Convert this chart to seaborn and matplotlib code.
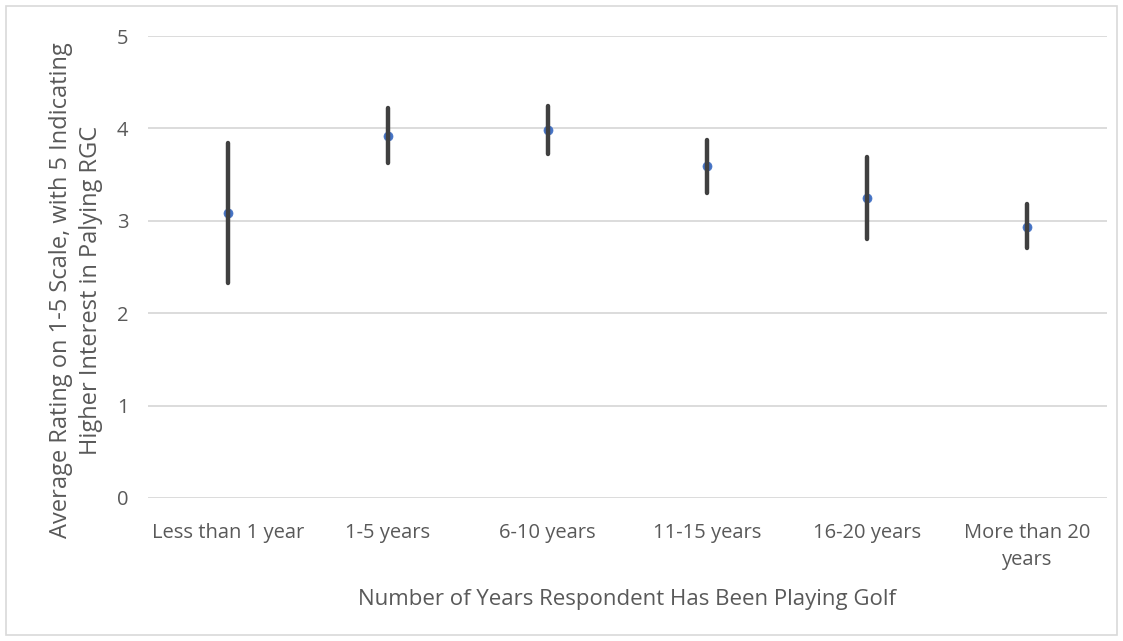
import numpy as np
import pandas as pd
import matplotlib
matplotlib.use("Agg")
import matplotlib.pyplot as plt
from matplotlib.patches import Rectangle
import seaborn as sns

categories = ["Less than 1 year", "1-5 years", "6-10 years", "11-15 years",
              "16-20 years", "More than 20\nyears"]
means = [3.08, 3.92, 3.98, 3.59, 3.25, 2.93]
lower = [2.33, 3.63, 3.72, 3.30, 2.80, 2.71]
upper = [3.84, 4.22, 4.24, 3.87, 3.69, 3.18]
y_ticks = [0, 1, 2, 3, 4, 5]

# long table: median of (low, mean, high) is the mean; 100% interval spans low..high
rows = []
for c, lo, m, hi in zip(categories, lower, means, upper):
    for v in (lo, m, hi):
        rows.append({"group": c, "rating": v})
df = pd.DataFrame(rows)

sns.set_theme(style="white")
plt.rcParams["font.family"] = ["Open Sans", "DejaVu Sans"]

fig = plt.figure(figsize=(11.23, 6.41), dpi=100)
ax = fig.add_axes([0.1318, 0.2231, 0.9857 - 0.1318, 0.9438 - 0.2231])

sns.pointplot(data=df, x="group", y="rating", order=categories,
              estimator="median", errorbar=("pi", 100),
              linestyle="none", color="#4472C4", marker="o", markersize=6.5,
              markeredgewidth=0.5, markeredgecolor="#4472C4",
              err_kws={"color": "#404040", "linewidth": 3.2},
              ax=ax)

ax.set_ylim(0, 5)
ax.set_xlim(-0.5, len(categories) - 0.5)
ax.set_yticks(y_ticks)
ax.yaxis.grid(True, color="#D9D9D9", linewidth=1.3)
ax.set_axisbelow(True)
for s in ax.spines.values():
    s.set_visible(False)
ax.tick_params(axis="both", length=0, labelsize=14.5, colors="#595959")
ax.tick_params(axis="y", pad=14)
ax.tick_params(axis="x", pad=18)
for lbl in ax.get_xticklabels():
    lbl.set_linespacing(1.45)

ax.set_xlabel("Number of Years Respondent Has Been Playing Golf",
              fontsize=16, color="#595959", labelpad=14)
ax.set_ylabel("Average Rating on 1-5 Scale, with 5 Indicating\nHigher Interest in Palying RGC",
              fontsize=17, color="#595959", linespacing=1.35)
ax.yaxis.set_label_coords(-0.047, 0.45)

fig.patches.append(Rectangle((6 / 1123, 6 / 641), 1 - 12 / 1123, 1 - 12 / 641,
                             transform=fig.transFigure, fill=False,
                             edgecolor="#D9D9D9", linewidth=1.2))

fig.savefig("out.png", dpi=100, facecolor="white")
